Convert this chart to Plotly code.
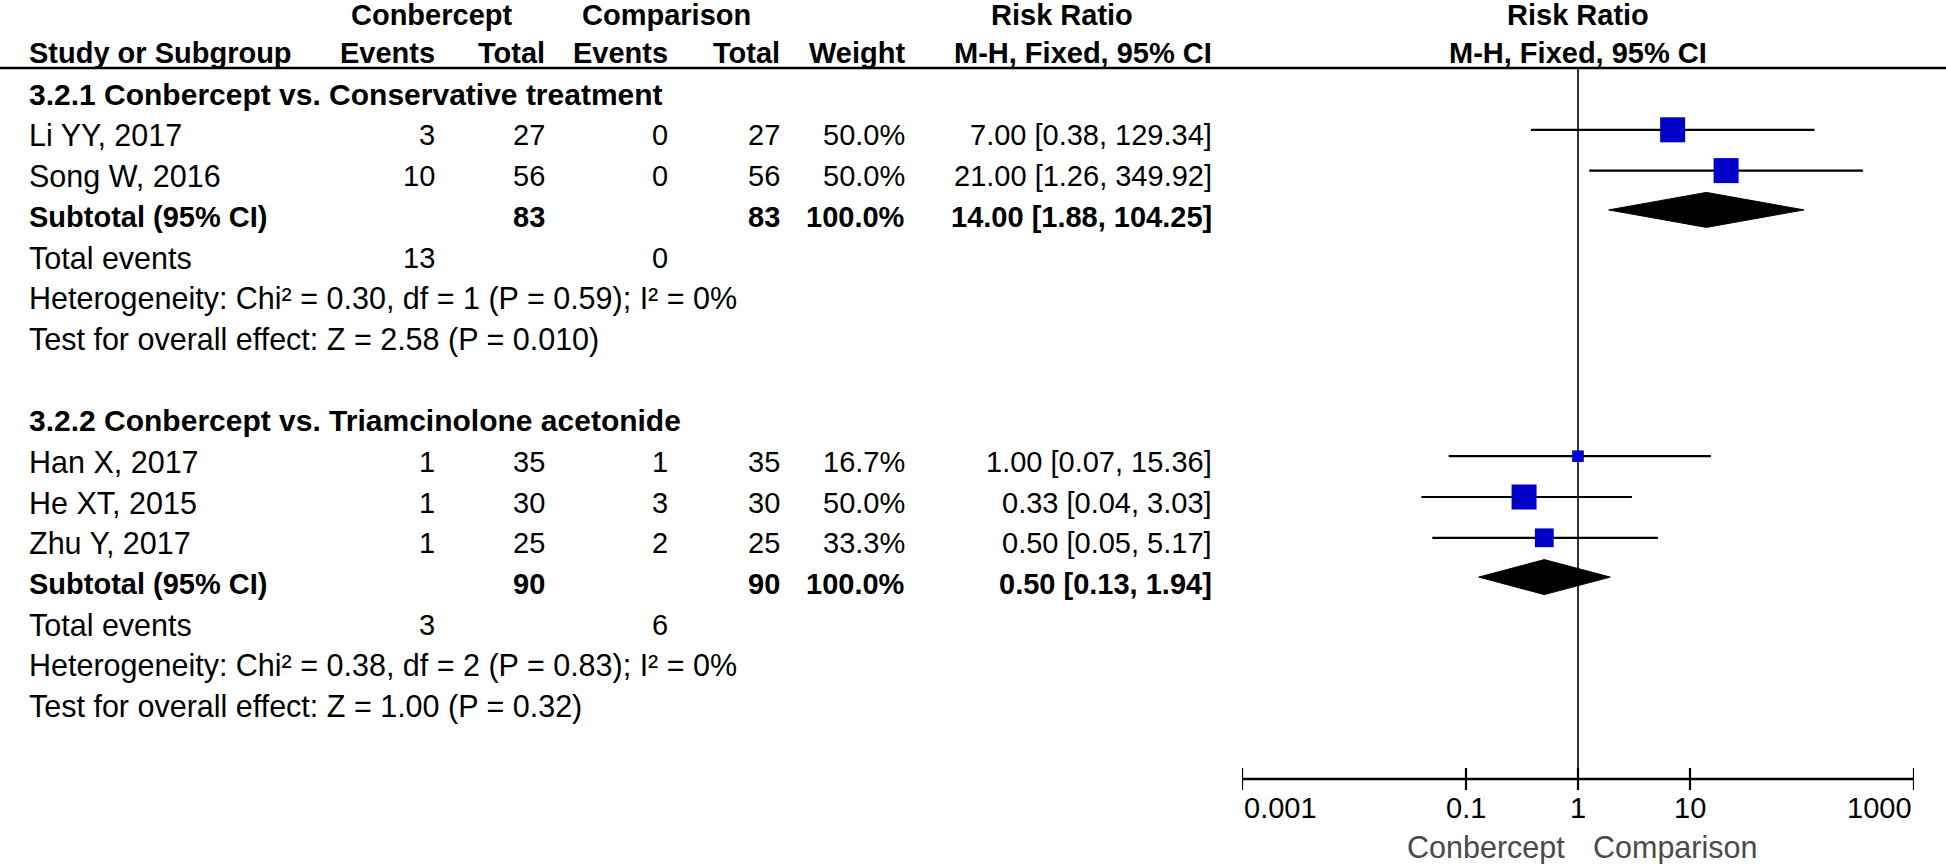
import math
import plotly.graph_objects as go

W, H = 1946, 864

# ---------------- data ----------------
group_titles = ["3.2.1 Conbercept vs. Conservative treatment",
                "3.2.2 Conbercept vs. Triamcinolone acetonide"]
study_names = [["Li YY, 2017", "Song W, 2016"],
               ["Han X, 2017", "He XT, 2015", "Zhu Y, 2017"]]
conb_events = [[3, 10], [1, 1, 1]]
conb_total = [[27, 56], [35, 30, 25]]
comp_events = [[0, 0], [1, 3, 2]]
comp_total = [[27, 56], [35, 30, 25]]
weights = [[50.0, 50.0], [16.7, 50.0, 33.3]]
rr = [[7.00, 21.00], [1.00, 0.33, 0.50]]
rr_lo = [[0.38, 1.26], [0.07, 0.04, 0.05]]
rr_hi = [[129.34, 349.92], [15.36, 3.03, 5.17]]
sub_rr = [14.00, 0.50]
sub_lo = [1.88, 0.13]
sub_hi = [104.25, 1.94]
sub_conb_total = [83, 90]
sub_comp_total = [83, 90]
tot_conb_events = [13, 3]
tot_comp_events = [0, 6]
heterogeneity = ["Heterogeneity: Chi² = 0.30, df = 1 (P = 0.59); I² = 0%",
                 "Heterogeneity: Chi² = 0.38, df = 2 (P = 0.83); I² = 0%"]
overall = ["Test for overall effect: Z = 2.58 (P = 0.010)",
           "Test for overall effect: Z = 1.00 (P = 0.32)"]
tick_vals = [0.001, 0.1, 1, 10, 1000]
tick_text = ["0.001", "0.1", "1", "10", "1000"]
favours = ["Conbercept", "Comparison"]

# ---------------- layout constants ----------------
FONT = "Liberation Sans, Arial, sans-serif"
FS = 29          # numbers / bold headers
FS_LBL = 30.5    # regular word labels
FS_GRP = 30      # group titles
BLUE = "#0000C8"
ROW0, ROWH = 94.5, 40.8
MARK_OFF = -5.5
X_LABEL = 27
X_EV1, X_TOT1, X_EV2, X_TOT2, X_W, X_RR = 437, 547, 670, 782, 907, 1214
AX_L, AX_R = 1242, 1914
AX_Y = 779
HEAD1_Y, HEAD2_Y, HLINE_Y = 15, 53, 68

def ry(i):
    return ROW0 + ROWH * i

fig = go.Figure()
ann = []

def txt(x, y, s, anchor="left", bold=False, color="black", xref="x", size=FS, xshift=0):
    if xref == "x2":
        x = math.log10(x)  # annotations on log axes take log10 positions
    ann.append(dict(x=x, y=y, xref=xref, yref="y", text=("<b>%s</b>" % s) if bold else s,
                    showarrow=False, xanchor=anchor, yanchor="middle", xshift=xshift,
                    font=dict(family=FONT, size=size, color=color)))

# headers
txt(431, HEAD1_Y, "Conbercept", "center", True)
txt(666, HEAD1_Y, "Comparison", "center", True)
txt(1062, HEAD1_Y, "Risk Ratio", "center", True)
txt(1, HEAD1_Y, "Risk Ratio", "center", True, xref="x2")
txt(X_LABEL, HEAD2_Y, "Study or Subgroup", "left", True)
txt(X_EV1, HEAD2_Y, "Events", "right", True)
txt(X_TOT1, HEAD2_Y, "Total", "right", True)
txt(X_EV2, HEAD2_Y, "Events", "right", True)
txt(X_TOT2, HEAD2_Y, "Total", "right", True)
txt(X_W, HEAD2_Y, "Weight", "right", True)
txt(X_RR, HEAD2_Y, "M-H, Fixed, 95% CI", "right", True)
txt(1, HEAD2_Y, "M-H, Fixed, 95% CI", "center", True, xref="x2")

# header rule and null line
fig.add_trace(go.Scatter(x=[0, W], y=[HLINE_Y, HLINE_Y], xaxis="x", yaxis="y", mode="lines",
                         line=dict(color="black", width=2.5), hoverinfo="skip"))
fig.add_trace(go.Scatter(x=[1, 1], y=[HLINE_Y, AX_Y], xaxis="x2", yaxis="y", mode="lines",
                         line=dict(color="black", width=1.6), hoverinfo="skip"))

ci_x, ci_y = [], []
sq_x, sq_y, sq_s = [], [], []
row = 0
for g in range(len(group_titles)):
    txt(X_LABEL, ry(row), group_titles[g], "left", True, size=FS_GRP)
    row += 1
    for k, name in enumerate(study_names[g]):
        y = ry(row)
        txt(X_LABEL, y, name, size=FS_LBL)
        txt(X_EV1, y, str(conb_events[g][k]), "right")
        txt(X_TOT1, y, str(conb_total[g][k]), "right")
        txt(X_EV2, y, str(comp_events[g][k]), "right")
        txt(X_TOT2, y, str(comp_total[g][k]), "right")
        txt(X_W, y, "%.1f%%" % weights[g][k], "right")
        txt(X_RR, y, "%.2f [%.2f, %.2f]" % (rr[g][k], rr_lo[g][k], rr_hi[g][k]), "right")
        ci_x += [rr_lo[g][k], rr_hi[g][k], None]
        ci_y += [y + MARK_OFF, y + MARK_OFF, None]
        sq_x.append(rr[g][k])
        sq_y.append(y + MARK_OFF)
        sq_s.append(25 * (weights[g][k] / 50.0) ** 0.7)
        row += 1
    y = ry(row)
    txt(X_LABEL, y, "Subtotal (95% CI)", "left", True)
    txt(X_TOT1, y, str(sub_conb_total[g]), "right", True)
    txt(X_TOT2, y, str(sub_comp_total[g]), "right", True)
    txt(X_W, y, "100.0%", "right", True)
    txt(X_RR, y, "%.2f [%.2f, %.2f]" % (sub_rr[g], sub_lo[g], sub_hi[g]), "right", True)
    yc = y - 7
    fig.add_trace(go.Scatter(x=[sub_lo[g], sub_rr[g], sub_hi[g], sub_rr[g], sub_lo[g]],
                             y=[yc, yc - 17.5, yc, yc + 17.5, yc], xaxis="x2", yaxis="y",
                             mode="lines", fill="toself", fillcolor="black",
                             line=dict(color="black", width=1), hoverinfo="skip"))
    row += 1
    y = ry(row)
    txt(X_LABEL, y, "Total events", size=FS_LBL)
    txt(X_EV1, y, str(tot_conb_events[g]), "right")
    txt(X_EV2, y, str(tot_comp_events[g]), "right")
    row += 1
    txt(X_LABEL, ry(row), heterogeneity[g], size=FS_LBL)
    row += 1
    txt(X_LABEL, ry(row), overall[g], size=FS_LBL)
    row += 2

fig.add_trace(go.Scatter(x=ci_x, y=ci_y, xaxis="x2", yaxis="y", mode="lines",
                         line=dict(color="black", width=2.2), hoverinfo="skip"))
fig.add_trace(go.Scatter(x=sq_x, y=sq_y, xaxis="x2", yaxis="y", mode="markers",
                         marker=dict(symbol="square", size=sq_s, color=BLUE, opacity=1,
                                     line=dict(width=0)), hoverinfo="skip"))

# forest axis
fig.add_trace(go.Scatter(x=[tick_vals[0], tick_vals[-1]], y=[AX_Y, AX_Y], xaxis="x2", yaxis="y",
                         mode="lines", line=dict(color="black", width=2.6), hoverinfo="skip"))
tx, ty = [], []
for t in tick_vals:
    tx += [t, t, None]
    ty += [AX_Y - 11, AX_Y + 11, None]
fig.add_trace(go.Scatter(x=tx, y=ty, xaxis="x2", yaxis="y", mode="lines",
                         line=dict(color="black", width=2.2), hoverinfo="skip"))
for i, (t, s) in enumerate(zip(tick_vals, tick_text)):
    anchor = "left" if i == 0 else ("right" if i == len(tick_vals) - 1 else "center")
    txt(t, 808, s, anchor, xref="x2")
txt(1, 847, favours[0], "right", color="#4a4a4a", xref="x2", size=FS_LBL, xshift=-11)
txt(1, 847, favours[1], "left", color="#4a4a4a", xref="x2", size=FS_LBL, xshift=13)

fig.update_layout(
    width=W, height=H, margin=dict(l=0, r=0, t=0, b=0),
    paper_bgcolor="white", plot_bgcolor="rgba(0,0,0,0)", showlegend=False,
    xaxis=dict(range=[0, W], domain=[0, 1], visible=False, fixedrange=True),
    xaxis2=dict(type="log", range=[-3, 3], domain=[AX_L / W, AX_R / W], anchor="y",
                visible=False, fixedrange=True),
    yaxis=dict(range=[H, 0], domain=[0, 1], visible=False, fixedrange=True),
    annotations=ann, hovermode=False,
)

fig.write_html("out.html", config={"displayModeBar": False, "staticPlot": True},
               post_script="document.body.style.margin='0';document.body.style.overflow='hidden';")
